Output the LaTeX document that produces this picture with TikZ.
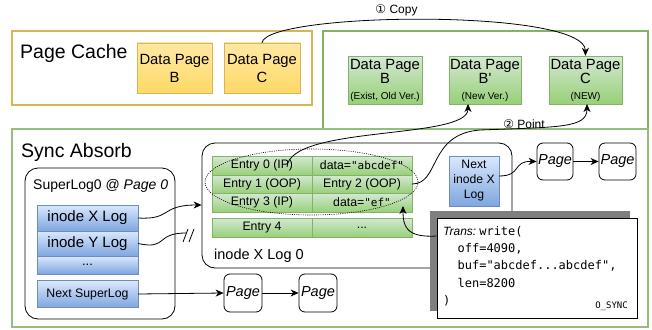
\documentclass[tikz,border=0pt]{standalone}
\usepackage{fontspec}
\setmainfont{Liberation Sans}[Ligatures=TeXOff]
\setmonofont{DejaVu Sans Mono}[Ligatures=TeXOff]
\newfontfamily\dejavu{DejaVu Sans}
\usetikzlibrary{arrows.meta,shadows,shapes.geometric}
\definecolor{ybd}{HTML}{D6B656}
\definecolor{ytop}{HTML}{FFF2CC}
\definecolor{ybot}{HTML}{FFD966}
\definecolor{gbd}{HTML}{82B366}
\definecolor{gtop}{HTML}{D5E8D4}
\definecolor{gbot}{HTML}{97D077}
\definecolor{bbd}{HTML}{6C8EBF}
\definecolor{btop}{HTML}{DAE8FC}
\definecolor{bbot}{HTML}{7EA6E0}
\definecolor{shd}{HTML}{7F7F7F}
\begin{document}
\begin{tikzpicture}[x=1pt,y=-1pt,
  frame/.style={draw, line width=1.8pt, inner sep=0},
  ybox/.style={draw=ybd, top color=ytop!60!ybot, bottom color=ybot, inner sep=0, align=center, font=\fontsize{14.8}{18}\selectfont},
  gbox/.style={draw=gbd, top color=gtop, bottom color=gbot, inner sep=0, align=center},
  bbox/.style={draw=bbd, top color=btop, bottom color=bbot, inner sep=0, align=center},
  cell/.style={gbox, minimum width=100, font=\fontsize{12.3}{14}\selectfont},
  pagebox/.style={draw, line width=0.8pt, rounded corners=6pt, fill=white, inner sep=0, font=\fontsize{14.5}{16}\selectfont\itshape},
  rbox/.style={draw, line width=0.8pt, rounded corners=13pt, inner sep=0},
  lbl/.style={inner sep=0, anchor=west},
  conn/.style={-{Stealth[length=8pt,width=7pt,inset=2.5pt]}, line width=0.8pt},
  plain/.style={line width=0.8pt}
]
\useasboundingbox (0,0) rectangle (652,329);
\fill[white] (0,0) rectangle (652,329);

% Page cache
\node[frame, draw=ybd, minimum width=300, minimum height=74] (pc) at (162,68) {};
\node[lbl, font=\fontsize{19.5}{22}\selectfont] (pctitle) at (20,53) {Page Cache};
\node[ybox, minimum width=75, minimum height=50] (yB) at (174.5,68) {Data Page\\B};
\node[ybox, minimum width=76, minimum height=50] (yC) at (262,68) {Data Page\\C};

% top green frame
\node[frame, draw=gbd, minimum width=325, minimum height=98] (top) at (485.5,80) {};
\node[gbox, minimum width=74, minimum height=48, font=\fontsize{14.8}{14}\selectfont] (gB) at (385,80) {Data Page\\B\\[2pt]{\fontsize{10}{12}\selectfont (Exist, Old Ver.)}};
\node[gbox, minimum width=72, minimum height=48, font=\fontsize{14.8}{14}\selectfont] (gBp) at (485,80) {Data Page\\B'\\[2pt]{\fontsize{10}{12}\selectfont (New Ver.)}};
\node[gbox, minimum width=73, minimum height=48, font=\fontsize{14.8}{14}\selectfont] (gC) at (585.5,80) {Data Page\\C\\[2pt]{\fontsize{10}{12}\selectfont (NEW)}};

% sync absorb frame
\node[frame, draw=gbd!85, minimum width=636, minimum height=198] (sync) at (330,228) {};
\node[lbl, font=\fontsize{19.5}{22}\selectfont] (synctitle) at (21,152) {Sync Absorb};

% SuperLog0
\node[rbox, minimum width=150, minimum height=151] (sl) at (100,243.5) {};
\node[lbl, font=\fontsize{14}{16}\selectfont] (sltitle) at (33,186) {SuperLog0 @ \textit{Page 0}};
\node[bbox, minimum width=101, minimum height=26, font=\fontsize{15}{16}\selectfont] (ixl) at (87.5,218) {inode X Log};
\node[bbox, minimum width=101, minimum height=25, font=\fontsize{15}{16}\selectfont] (iyl) at (87.5,243.5) {inode Y Log};
\node[bbox, minimum width=101, minimum height=18, font=\fontsize{13}{14}\selectfont] (idots) at (87.5,265) {...};
\node[bbox, minimum width=101, minimum height=27, font=\fontsize{12.3}{14}\selectfont] (nsl) at (87.5,294) {Next SuperLog};

% inode X Log 0
\node[rbox, minimum width=310, minimum height=125] (log0) at (357,205.5) {};
\node[lbl, font=\fontsize{14.5}{16}\selectfont] (log0title) at (214,256) {inode X Log 0};
\node[cell, minimum height=19] (e0) at (262,165.5) {Entry 0 (IP)};
\node[cell, minimum height=19] (d0) at (362,165.5) {data=\texttt{\fontsize{11}{12}\selectfont"abcdef"}};
\node[cell, minimum height=18] (e1) at (262,184) {Entry 1 (OOP)};
\node[cell, minimum height=18] (e2) at (362,184) {Entry 2 (OOP)};
\node[cell, minimum height=19] (e3) at (262,202.5) {Entry 3 (IP)};
\node[cell, minimum height=19] (d3) at (362,202.5) {data=\texttt{\fontsize{11}{12}\selectfont"ef"}};
\node[cell, minimum height=19] (e4) at (262,227.5) {Entry 4};
\node[cell, minimum height=19] (d4) at (362,227.5) {...};
\node[ellipse, draw, line width=0.6pt, dash pattern=on 1pt off 1.2pt, minimum width=213, minimum height=66, inner sep=0] (ell) at (311.5,182) {};

\node[bbox, minimum width=50, minimum height=50, font=\fontsize{12.2}{15}\selectfont] (nix) at (474,181) {Next\\inode X\\Log};

% pages
\node[pagebox, minimum width=36, minimum height=37] (p1) at (555,161.5) {Page};
\node[pagebox, minimum width=37, minimum height=37] (p2) at (617.5,161.5) {Page};
\node[pagebox, minimum width=38, minimum height=38] (p3) at (243,293) {Page};
\node[pagebox, minimum width=38, minimum height=38] (p4) at (318,293) {Page};

% Trans box
\node[draw, line width=0.8pt, fill=white, minimum width=200, minimum height=100, inner sep=0,
  general shadow={fill=shd, shadow xshift=-7pt, shadow yshift=7pt}] (trans) at (537,268) {};
\node[anchor=north west, align=left, inner sep=0, font=\ttfamily\fontsize{12}{17.3}\selectfont] (ttxt) at (443,226)
  {{\rmfamily\itshape Trans:}\hspace{3pt}write(\\\hspace*{14.4pt}off=4090,\\\hspace*{14.4pt}buf="abcdef...abcdef",\\\hspace*{14.4pt}len=8200\\)};
\node[anchor=east, inner sep=0, font=\ttfamily\fontsize{9}{10}\selectfont] (osync) at (628,306) {O\_SYNC};

% connectors
\draw[conn] (yC.north) .. controls (266,12) and (585,8) .. (gC.north);
\node[inner sep=0, font=\fontsize{12}{14}\selectfont] (copylbl) at (396.5,10) {{\dejavu ①} Copy};

\draw[conn] (287,167) .. controls (290,125) and (468,140) .. (468,104);
\draw[conn] (e2.east) .. controls (440,184) and (428,134) .. (480,130) .. controls (560,127) and (587,128) .. (587,104);
\node[inner sep=0, font=\fontsize{12}{14}\selectfont] (pointlbl) at (524,124) {{\dejavu ②} Point};

\draw[conn] (ixl.east) .. controls (172,220) and (160,205) .. (log0.west |- 0,205);
\coordinate (ybrk) at (186,233);
\draw[plain] (iyl.east) .. controls (168,250) and (155,233) .. (ybrk);
\draw[plain] (183,242) -- (188,229) (189,242) -- (194,229);

\draw[conn] (nsl.east) -- (p3.west);
\draw[conn] (p3.east) -- (p4.west);
\draw[conn] (499,176) .. controls (522,176) and (512,161) .. (p1.west);
\draw[conn] (p1.east) -- (p2.west);
\draw[conn] (trans.west |- 0,236) .. controls (405,238) and (403,225) .. (403,206);
\end{tikzpicture}
\end{document}
